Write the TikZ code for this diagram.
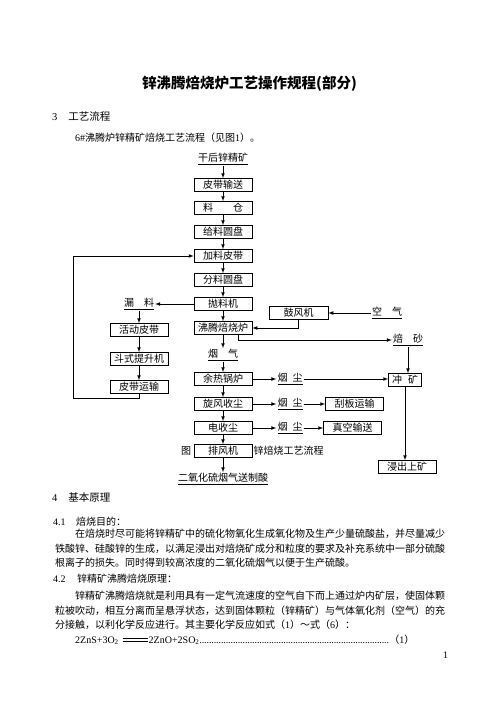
\documentclass[tikz,border=0pt]{standalone}
\usepackage{fontspec}
\setmainfont{Noto Sans CJK SC}
\newfontfamily\tnr{Liberation Serif}
\usepackage{tikz}
\usetikzlibrary{positioning}

\tikzset{
  box/.style={draw, line width=.7pt, fill=white, minimum width=58pt, minimum height=13pt, inner sep=0pt},
  lbl/.style={inner sep=1pt},
  txt/.style={anchor=base west, inner sep=0pt},
  arr/.style={-latex, line width=.7pt},
}

\begin{document}
\begin{tikzpicture}[x=1pt,y=-1pt,font=\fontsize{10}{12}\selectfont]
\fill[white] (0,0) rectangle (500,706);
\useasboundingbox (0,0) rectangle (500,706);

% title and heading
\node[anchor=base, inner sep=0pt, font=\fontsize{14.5}{16}\selectfont\bfseries] (title) at (249.5,88.5) {锌沸腾焙烧炉工艺操作规程(部分)};
\node[txt, font=\fontsize{10.5}{12}\selectfont] (h3) at (52,121) {{\tnr 3}\hspace{11pt}工艺流程};
\node[txt] (intro) at (75,142) {{\tnr 6\#}沸腾炉锌精矿焙烧工艺流程（见图{\tnr 1}）。};

% main column
\node[lbl] (gh) at (223,159) {\underline{干后锌精矿}};
\foreach \y/\nm/\lab in {185/pd/皮带输送, 208/lc/料\hspace{2em}仓, 232/gl/给料圆盘, 256/jl/加料皮带, 280/fl/分料圆盘, 304/pl/抛料机, 328/ft/沸腾焙烧炉, 379/yr/余热锅炉, 404/xf/旋风收尘, 428/dc/电收尘, 451/pf/排风机}
  \node[box] (\nm) at (223,\y) {\lab};
\node[lbl] (yq) at (223,355) {\underline{烟\quad 气}};
\node[lbl] (sa) at (223,479) {\underline{二氧化硫烟气送制酸}};
\node[lbl] (tu) at (186,451) {图};
\node[lbl, anchor=west] (tuc) at (pf.east) {锌焙烧工艺流程};
\draw[arr] (gh) -- (pd);
\foreach \a/\b in {pd/lc, lc/gl, gl/jl, jl/fl, fl/pl, pl/ft, ft/yq, yq/yr, yr/xf, xf/dc, dc/pf, pf/sa}
  \draw[arr] (\a) -- (\b);

% return loop on the left
\node[lbl] (ll) at (139,304) {\underline{漏\quad 料}};
\foreach \y/\nm/\lab in {330/hd/活动皮带, 359/dt/斗式提升机, 387/py/皮带运输}
  \node[box] (\nm) at (139,\y) {\lab};
\draw[arr] (pl) -- (ll);
\foreach \a/\b in {ll/hd, hd/dt, dt/py}
  \draw[arr] (\a) -- (\b);
\coordinate (lp) at (73,398);
\draw[arr] (py.south) |- (lp) |- (jl.west);

% air and calcine
\node[box, minimum width=59pt] (gf) at (298.5,313) {鼓风机};
\node[lbl] (kq) at (387,313) {\underline{空\quad 气}};
\draw[arr] (kq) -- (gf);
\draw[arr] (gf.south) |- (ft.east);
\node[lbl] (bs) at (408,340) {\underline{焙\quad 砂}};
\draw[arr] ([xshift=15pt]ft.south) |- (bs.west);
\node[box, minimum width=33pt] (ck) at (405,380) {冲\hspace{6pt}矿};
\draw[arr] (bs.south) -- (bs.south |- ck.north);
\node[box] (jc) at (407,467) {浸出上矿};
\draw[arr] (ck.south) -- (ck.south |- jc.north);

% dust
\foreach \y/\nm in {379/yc1, 404/yc2, 428/yc3}
  \node[lbl] (\nm) at (290,\y) {\underline{烟\hspace{5pt}尘}};
\node[box] (gb) at (354.5,404) {刮板运输};
\node[box] (zk) at (352.5,428) {真空输送};
\draw[arr] (yr) -- (yc1);
\draw[arr] (xf) -- (yc2);
\draw[arr] (dc) -- (yc3);
\draw[arr] (yc1.east) -- (yc1.east -| ck.west);
\draw[arr] (yc2) -- (gb);
\draw[arr] (yc3) -- (zk);

% text below
\node[txt, font=\fontsize{10.5}{12}\selectfont] (h4) at (52,501) {{\tnr 4}\hspace{11pt}基本原理};
\node[txt] (s41) at (53,525) {{\tnr 4.1}\hspace{10.5pt}焙烧目的：};
\node[txt] (p1) at (75,537) {在焙烧时尽可能将锌精矿中的硫化物氧化生成氧化物及生产少量硫酸盐，并尽量减少};
\node[txt] (p2) at (55,552) {铁酸锌、硅酸锌的生成，以满足浸出对焙烧矿成分和粒度的要求及补充系统中一部分硫酸};
\node[txt] (p3) at (55,566) {根离子的损失。同时得到较高浓度的二氧化硫烟气以便于生产硫酸。};
\node[txt] (s42) at (53,582) {{\tnr 4.2}\hspace{11.5pt}锌精矿沸腾焙烧原理：};
\node[txt] (q1) at (75,599) {锌精矿沸腾焙烧就是利用具有一定气流速度的空气自下而上通过炉内矿层，使固体颗};
\node[txt] (q2) at (55,614) {粒被吹动，相互分离而呈悬浮状态，达到固体颗粒（锌精矿）与气体氧化剂（空气）的充};
\node[txt] (q3) at (55,628) {分接触，以利化学反应进行。其主要化学反应如式（{\tnr 1}）～式（{\tnr 6}）：};
\node[txt] (eq) at (75,643) {{\tnr 2ZnS+3O\textsubscript{2}\hspace{4pt}\rlap{\raisebox{2pt}{\rule{25pt}{.5pt}}}\raisebox{4.5pt}{\rule{25pt}{.5pt}}\hspace{1pt}2ZnO+2SO\textsubscript{2}\hbox to 190pt{\leaders\hbox to 2.4pt{\hss.\hss}\hfill}}（{\tnr 1}）};
\node[txt] (pg) at (443,658) {{\tnr 1}};
\end{tikzpicture}
\end{document}
